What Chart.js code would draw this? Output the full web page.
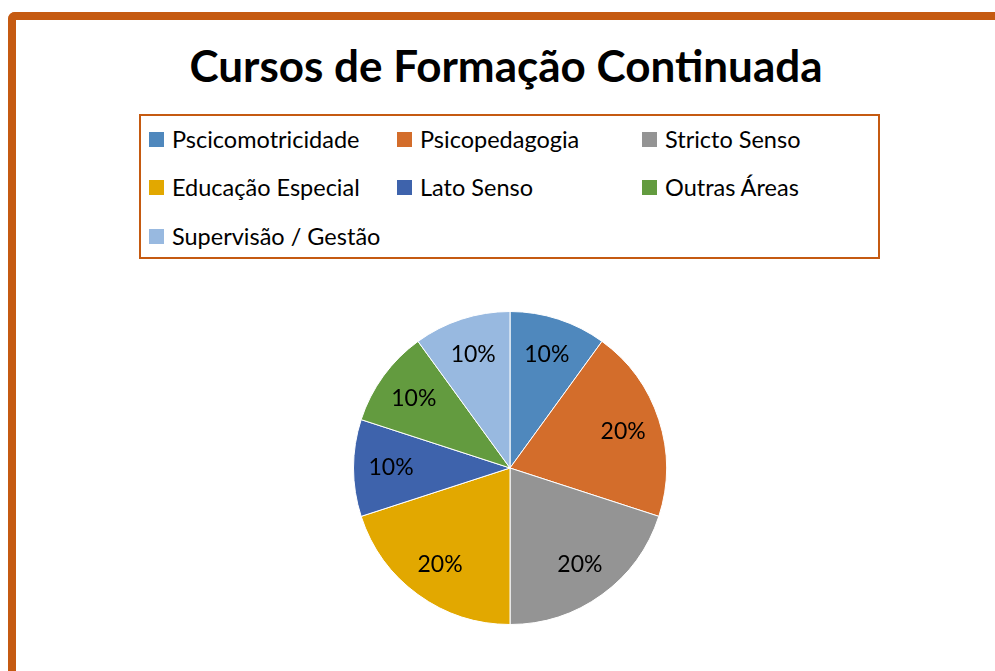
<!DOCTYPE html>
<html>
<head>
<meta charset="utf-8">
<script src="https://cdn.jsdelivr.net/npm/chart.js@4/dist/chart.umd.min.js"></script>
<style>
  body { margin: 0; background: #fff; width: 995px; height: 671px; overflow: hidden; position: relative; font-family: Lato, "Noto Sans", sans-serif; }
  #frame { position: absolute; left: 8px; top: 12px; width: 1200px; height: 900px; border-top: 8px solid #C55A11; border-left: 8px solid #C55A11; border-top-left-radius: 7px; }
  #title { position: absolute; left: 0; top: 43px; width: 1012px; text-align: center; font-size: 44px; line-height: 1; font-weight: bold; color: #000; }
  #legend { position: absolute; left: 139px; top: 114px; width: 737px; height: 141px; border: 2px solid #C55A11; }
  .item { position: absolute; display: flex; align-items: center; height: 30px; font-size: 23.5px; color: #000; white-space: nowrap; }
  .box { width: 15px; height: 15px; margin-right: 8px; }
  #pie { position: absolute; left: 353px; top: 311px; }
</style>
</head>
<body>
<div id="frame"></div>
<div id="title">Cursos de Formação Continuada</div>
<div id="legend"></div>
<canvas id="pie" width="314" height="314"></canvas>
<script>
const categories = ['Pscicomotricidade', 'Psicopedagogia', 'Stricto Senso', 'Educação Especial', 'Lato Senso', 'Outras Áreas', 'Supervisão / Gestão'];
const values = [10, 20, 20, 20, 10, 10, 10];
const colors = ['#4F88BD', '#D36D2B', '#949494', '#E2A800', '#3E63AC', '#639B3F', '#98B9E0'];

// legend grid, 3 columns
const colX = [149, 397, 642];
const rowY = [139, 187, 236];
const legendEl = document.getElementById('legend');
categories.forEach((name, i) => {
  const it = document.createElement('div');
  it.className = 'item';
  it.style.left = (colX[i % 3] - 141) + 'px';
  it.style.top = (rowY[Math.floor(i / 3)] - 116 - 15) + 'px';
  it.innerHTML = '<span class="box" style="background:' + colors[i] + '"></span>' + name;
  legendEl.appendChild(it);
});

const pctLabels = {
  id: 'pctLabels',
  afterDatasetsDraw(chart) {
    const ctx = chart.ctx;
    const data = chart.data.datasets[0].data;
    const total = data.reduce((a, b) => a + b, 0);
    ctx.save();
    ctx.font = '23px Lato, "Noto Sans", sans-serif';
    ctx.fillStyle = '#000';
    ctx.textAlign = 'center';
    ctx.textBaseline = 'middle';
    chart.getDatasetMeta(0).data.forEach((arc, i) => {
      const p = arc.getProps(['x', 'y', 'startAngle', 'endAngle', 'outerRadius'], true);
      const mid = (p.startAngle + p.endAngle) / 2;
      const r = p.outerRadius * 0.76;
      ctx.fillText(Math.round(data[i] / total * 100) + '%', p.x + Math.cos(mid) * r, p.y + Math.sin(mid) * r);
    });
    ctx.restore();
  }
};

new Chart(document.getElementById('pie'), {
  type: 'pie',
  data: {
    labels: categories,
    datasets: [{
      data: values,
      backgroundColor: colors,
      borderColor: '#fff',
      borderWidth: 1
    }]
  },
  options: {
    responsive: false,
    animation: false,
    plugins: {
      legend: { display: false },
      tooltip: { enabled: false }
    }
  },
  plugins: [pctLabels]
});
</script>
</body>
</html>
